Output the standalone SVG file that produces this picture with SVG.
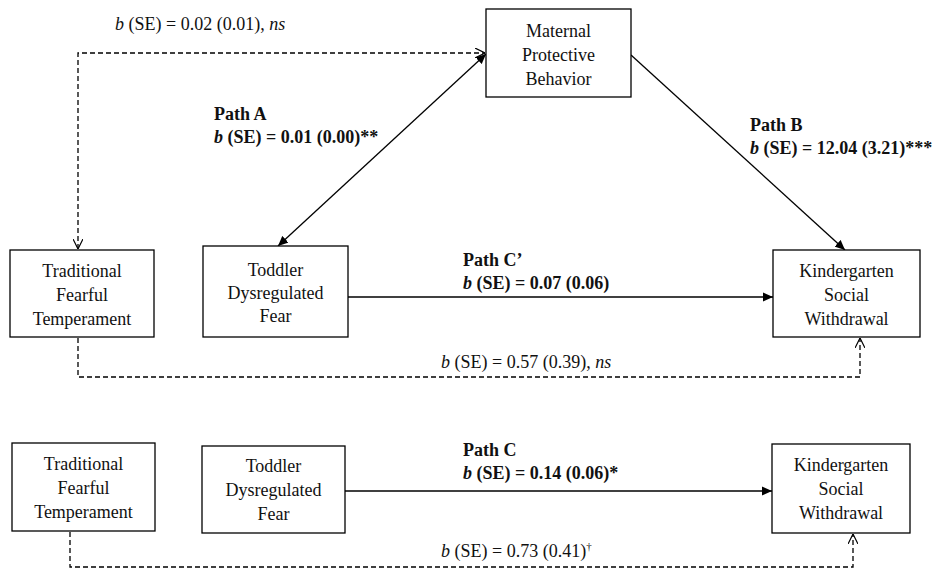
<svg xmlns="http://www.w3.org/2000/svg" width="940" height="570" viewBox="0 0 940 570">
<style>
.box{fill:#fff;stroke:#000;stroke-width:1.3}
text{font-family:"Liberation Serif","Times New Roman","DejaVu Serif",serif;font-size:18px;fill:#111}
.c{text-anchor:middle}
.b{font-weight:bold}
.i{font-style:italic}
.solid{fill:none;stroke:#000;stroke-width:1.3}
.dash{fill:none;stroke:#000;stroke-width:1.3;stroke-dasharray:5,3}
</style>
<defs>
<marker id="fa" viewBox="0 0 10 10" refX="10" refY="5" markerWidth="10" markerHeight="10" markerUnits="userSpaceOnUse" orient="auto-start-reverse">
<path d="M0,0.5 L10,5 L0,9.5 Z" fill="#000"/>
</marker>
<marker id="oa" viewBox="0 0 10 10" refX="10" refY="5" markerWidth="10" markerHeight="10" markerUnits="userSpaceOnUse" orient="auto-start-reverse">
<path d="M0,0 L10,5 L0,10" fill="none" stroke="#000" stroke-width="1.2"/>
</marker>
</defs>
<rect width="940" height="570" fill="#fff"/>
<g id="connectors">
<path class="dash" d="M78,249 V53 H485" marker-start="url(#oa)" marker-end="url(#oa)"/>
<path class="dash" d="M78,338 V377 H860 V338" marker-end="url(#oa)"/>
<line class="solid" x1="486" y1="54" x2="278" y2="246" marker-start="url(#fa)" marker-end="url(#fa)"/>
<line class="solid" x1="631" y1="55" x2="845" y2="250" marker-end="url(#fa)"/>
<line class="solid" x1="348" y1="297" x2="773" y2="297" marker-end="url(#fa)"/>
<line class="solid" x1="345" y1="491" x2="772" y2="491" marker-end="url(#fa)"/>
<path class="dash" d="M70,532 V567 H853 V534" marker-end="url(#oa)"/>
</g>
<g id="labels">
<text x="115" y="30"><tspan class="i">b</tspan> (SE) = 0.02 (0.01), <tspan class="i">ns</tspan></text>
<text class="b" x="214" y="120">Path A</text>
<text class="b" x="214" y="143"><tspan class="i">b</tspan> (SE) = 0.01 (0.00)**</text>
<text class="b" x="750" y="131">Path B</text>
<text class="b" x="750" y="154"><tspan class="i">b</tspan> (SE) = 12.04 (3.21)***</text>
<text class="b" x="463" y="266">Path C’</text>
<text class="b" x="463" y="289"><tspan class="i">b</tspan> (SE) = 0.07 (0.06)</text>
<text x="441" y="368"><tspan class="i">b</tspan> (SE) = 0.57 (0.39), <tspan class="i">ns</tspan></text>
<text class="b" x="463" y="456">Path C</text>
<text class="b" x="463" y="479"><tspan class="i">b</tspan> (SE) = 0.14 (0.06)*</text>
<text x="441" y="557"><tspan class="i">b</tspan> (SE) = 0.73 (0.41)<tspan font-size="11" dy="-7">†</tspan></text>
</g>
<g id="maternal">
<rect class="box" x="486" y="9" width="145" height="88"/>
<text class="c" x="558.5" y="37">Maternal</text>
<text class="c" x="558.5" y="61">Protective</text>
<text class="c" x="558.5" y="85">Behavior</text>
</g>
<g id="traditional1">
<rect class="box" x="10" y="250" width="144" height="87"/>
<text class="c" x="82" y="277">Traditional</text>
<text class="c" x="82" y="301">Fearful</text>
<text class="c" x="82" y="325">Temperament</text>
</g>
<g id="toddler1">
<rect class="box" x="203" y="246" width="145" height="91"/>
<text class="c" x="275.5" y="276">Toddler</text>
<text class="c" x="275.5" y="299">Dysregulated</text>
<text class="c" x="275.5" y="322">Fear</text>
</g>
<g id="kinder1">
<rect class="box" x="773" y="250" width="147" height="87"/>
<text class="c" x="846.5" y="277">Kindergarten</text>
<text class="c" x="846.5" y="301">Social</text>
<text class="c" x="846.5" y="325">Withdrawal</text>
</g>
<g id="traditional2">
<rect class="box" x="12" y="443" width="143" height="88"/>
<text class="c" x="83.5" y="470">Traditional</text>
<text class="c" x="83.5" y="494">Fearful</text>
<text class="c" x="83.5" y="518">Temperament</text>
</g>
<g id="toddler2">
<rect class="box" x="202" y="446" width="143" height="87"/>
<text class="c" x="273.5" y="472">Toddler</text>
<text class="c" x="273.5" y="496">Dysregulated</text>
<text class="c" x="273.5" y="520">Fear</text>
</g>
<g id="kinder2">
<rect class="box" x="772" y="444" width="138" height="89"/>
<text class="c" x="841" y="471">Kindergarten</text>
<text class="c" x="841" y="495">Social</text>
<text class="c" x="841" y="519">Withdrawal</text>
</g>
</svg>
